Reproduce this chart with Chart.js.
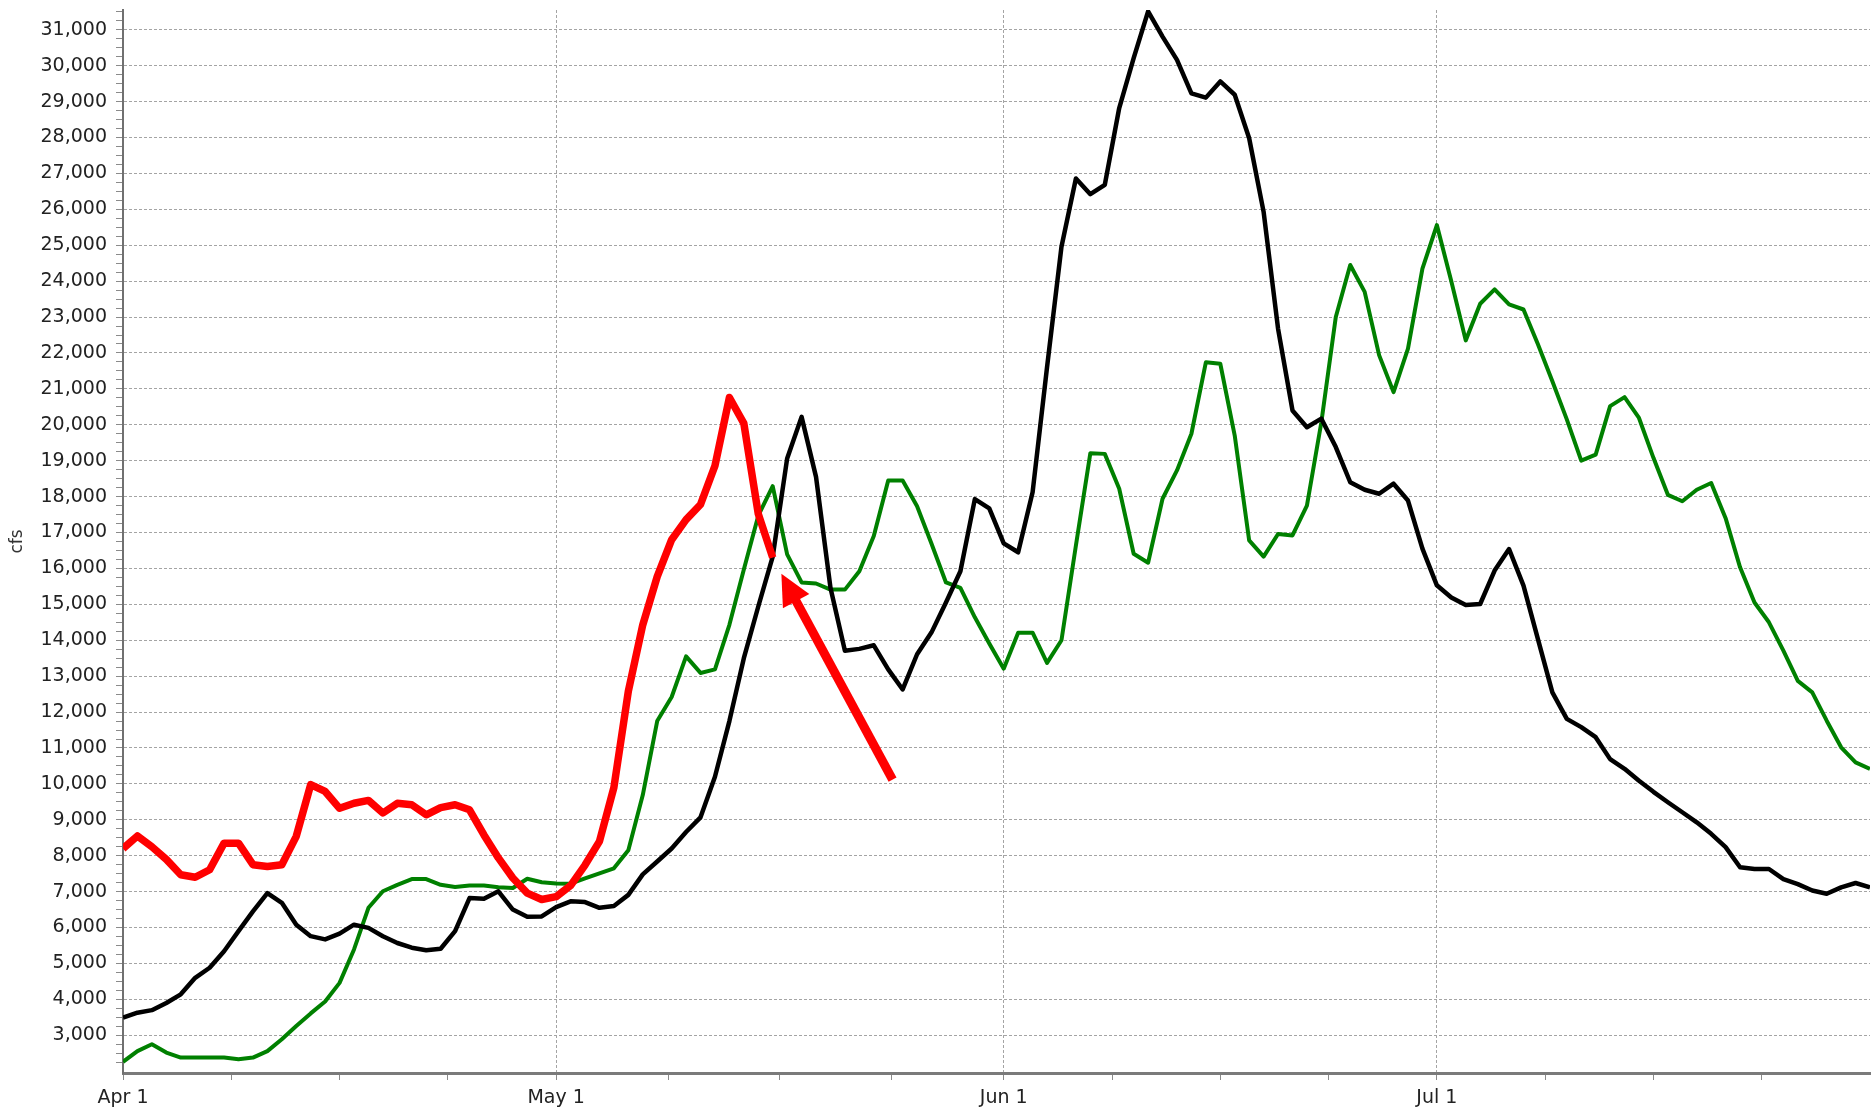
<!DOCTYPE html>
<html>
<head>
<meta charset="utf-8">
<title>cfs</title>
<script src="https://cdn.jsdelivr.net/npm/chart.js@4.4.1/dist/chart.umd.min.js"></script>
<style>
  html, body { margin: 0; padding: 0; background: #fff; }
  #wrap { width: 1874px; height: 1110px; }
</style>
</head>
<body>
<div id="wrap"><canvas id="flow" width="1874" height="1110"></canvas></div>
<script>
// days counted from Apr 1 (index 0) to Jul 31 (index 121)
const monthStarts = [0, 30, 61, 91, 121];
const monthLabels = ['Apr 1', 'May 1', 'Jun 1', 'Jul 1'];

// red: this year, stops mid May
const redFlow = [
  8200, 8550, 8250, 7900, 7470, 7400, 7610, 8350, 8350, 7750,
  7700, 7750, 8540, 9980, 9790, 9320, 9460, 9540, 9190, 9460,
  9420, 9140, 9340, 9420, 9280, 8580, 7940, 7380, 6960, 6780,
  6860, 7170, 7740, 8400, 9900, 12580, 14430, 15770, 16800, 17360,
  17780, 18860, 20760, 20040, 17520, 16300
];

const greenFlow = [
  2260, 2560, 2750, 2520, 2380, 2380, 2380, 2380, 2330, 2380,
  2560, 2890, 3260, 3610, 3940, 4460, 5390, 6550, 7010, 7190,
  7350, 7350, 7190, 7130, 7170, 7170, 7120, 7100, 7360, 7260,
  7230, 7220, 7370, 7510, 7650, 8150, 9690, 11750, 12420, 13550,
  13090, 13190, 14430, 15970, 17470, 18290, 16390, 15610, 15580, 15410,
  15410, 15920, 16900, 18450, 18450, 17730, 16690, 15610, 15460, 14640,
  13910, 13210, 14210, 14210, 13370, 14000, 16640, 19210, 19190, 18220,
  16410, 16160, 17940, 18730, 19750, 21740, 21700, 19700, 16780, 16330,
  16960, 16920, 17750, 20070, 23000, 24450, 23700, 21940, 20910, 22120,
  24350, 25560, 24000, 22350, 23370, 23770, 23350, 23210, 22240, 21210,
  20150, 19000, 19170, 20520, 20770, 20190, 19080, 18050, 17870, 18190,
  18380, 17400, 16030, 15050, 14500, 13710, 12870, 12550, 11760, 11020,
  10600, 10420
];

const blackFlow = [
  3490, 3630, 3700, 3900, 4140, 4600, 4880, 5340, 5900, 6450,
  6960, 6690, 6080, 5760, 5670, 5830, 6080, 5990, 5760, 5570,
  5440, 5370, 5410, 5900, 6820, 6800, 7010, 6500, 6300, 6310,
  6570, 6730, 6710, 6550, 6600, 6910, 7480, 7840, 8200, 8660,
  9070, 10200, 11750, 13500, 14940, 16330, 19060, 20220, 18550, 15460,
  13710, 13760, 13860, 13190, 12630, 13610, 14220, 15050, 15920, 17930,
  17670, 16700, 16450, 18120, 21600, 24960, 26860, 26420, 26680, 28820,
  30210, 31510, 30810, 30160, 29230, 29110, 29560, 29190, 27980, 25930,
  22680, 20400, 19930, 20170, 19380, 18400, 18190, 18080, 18360, 17890,
  16550, 15530, 15190, 14980, 15010, 15940, 16540, 15520, 14030, 12550,
  11810, 11580, 11300, 10690, 10420, 10090, 9780, 9490, 9210, 8930,
  8610, 8240, 7680, 7630, 7630, 7350, 7210, 7030, 6940, 7120,
  7240, 7120
];

// arrow pointing at the end of the red line (data coords)
const arrowFrom = { x: 53.3, y: 10120 };
const arrowTo = { x: 45.6, y: 15850 };

const yMin = 1950, yMax = 31550;

// x ticks: month starts plus quarter marks in between
const xTicks = [];
for (let i = 0; i < monthStarts.length - 1; i++) {
  const a = monthStarts[i], b = monthStarts[i + 1];
  for (let k = 0; k < 4; k++) xTicks.push(a + (b - a) * k / 4);
}

const toPoints = arr => arr.map((v, i) => ({ x: i, y: v }));
const gridGray = '#a4a4a4';
const clear = 'rgba(0,0,0,0)';

const arrowPlugin = {
  id: 'arrow',
  afterDatasetsDraw(chart) {
    const { ctx, scales: { x, y } } = chart;
    const x1 = x.getPixelForValue(arrowFrom.x), y1 = y.getPixelForValue(arrowFrom.y);
    const x2 = x.getPixelForValue(arrowTo.x), y2 = y.getPixelForValue(arrowTo.y);
    const ang = Math.atan2(y2 - y1, x2 - x1);
    const headLen = 31, headHalf = 15;
    const bx = x2 - headLen * Math.cos(ang), by = y2 - headLen * Math.sin(ang);
    ctx.save();
    ctx.strokeStyle = '#ff0000';
    ctx.fillStyle = '#ff0000';
    ctx.lineWidth = 9;
    ctx.beginPath();
    ctx.moveTo(x1, y1);
    ctx.lineTo(bx + 2 * Math.cos(ang), by + 2 * Math.sin(ang));
    ctx.stroke();
    ctx.beginPath();
    ctx.moveTo(x2, y2);
    ctx.lineTo(bx + headHalf * Math.sin(ang), by - headHalf * Math.cos(ang));
    ctx.lineTo(bx - headHalf * Math.sin(ang), by + headHalf * Math.cos(ang));
    ctx.closePath();
    ctx.fill();
    ctx.restore();
  }
};

const tickFont = { family: 'DejaVu Sans', size: 19 };

new Chart(document.getElementById('flow').getContext('2d'), {
  type: 'line',
  data: {
    datasets: [
      { data: toPoints(redFlow), borderColor: '#ff0000', borderWidth: 7.5, order: 0 },
      { data: toPoints(blackFlow), borderColor: '#000000', borderWidth: 4.5, order: 1 },
      { data: toPoints(greenFlow), borderColor: '#008000', borderWidth: 4, order: 2 }
    ]
  },
  options: {
    responsive: false,
    animation: false,
    elements: { point: { radius: 0 }, line: { tension: 0, borderJoinStyle: 'round' } },
    layout: { padding: { top: 10, right: 4, left: 0, bottom: 0 } },
    plugins: { legend: { display: false }, tooltip: { enabled: false } },
    scales: {
      x: {
        type: 'linear',
        min: 0,
        max: 121,
        afterBuildTicks: s => { s.ticks = xTicks.map(v => ({ value: v })); },
        afterFit: s => { s.height = 37; s.paddingLeft = 0; s.paddingRight = 0; },
        ticks: {
          autoSkip: false,
          maxRotation: 0,
          padding: 7,
          color: '#222',
          font: tickFont,
          callback: v => {
            const i = monthStarts.indexOf(v);
            return i >= 0 && i < monthLabels.length ? monthLabels[i] : '';
          }
        },
        grid: {
          color: c => (c.tick && monthStarts.includes(c.tick.value) ? gridGray : clear),
          tickColor: '#8a8a8a',
          tickLength: 7,
          tickBorderDash: []
        },
        border: { display: true, color: '#7a7a7a', width: 3, dash: [3, 2] }
      },
      y: {
        min: yMin,
        max: yMax,
        afterBuildTicks: s => {
          const t = [];
          for (let v = 2250; v <= yMax; v += 250) t.push({ value: v });
          s.ticks = t;
        },
        afterFit: s => { s.width = 123; s.paddingTop = 0; s.paddingBottom = 0; },
        title: {
          display: true,
          text: 'cfs',
          color: '#333',
          font: { family: 'DejaVu Sans', size: 17 },
          padding: { top: 7, bottom: 0 }
        },
        ticks: {
          autoSkip: false,
          padding: 9,
          color: '#222',
          font: tickFont,
          callback: v => (v % 1000 === 0 && v >= 3000 ? v.toLocaleString('en-US') : '')
        },
        grid: {
          color: c => (c.tick && c.tick.value % 1000 === 0 && c.tick.value >= 3000 ? gridGray : clear),
          tickColor: '#8a8a8a',
          tickLength: 7,
          tickBorderDash: []
        },
        border: { display: true, color: '#707070', width: 2, dash: [3, 2] }
      }
    }
  },
  plugins: [arrowPlugin]
});
</script>
</body>
</html>
